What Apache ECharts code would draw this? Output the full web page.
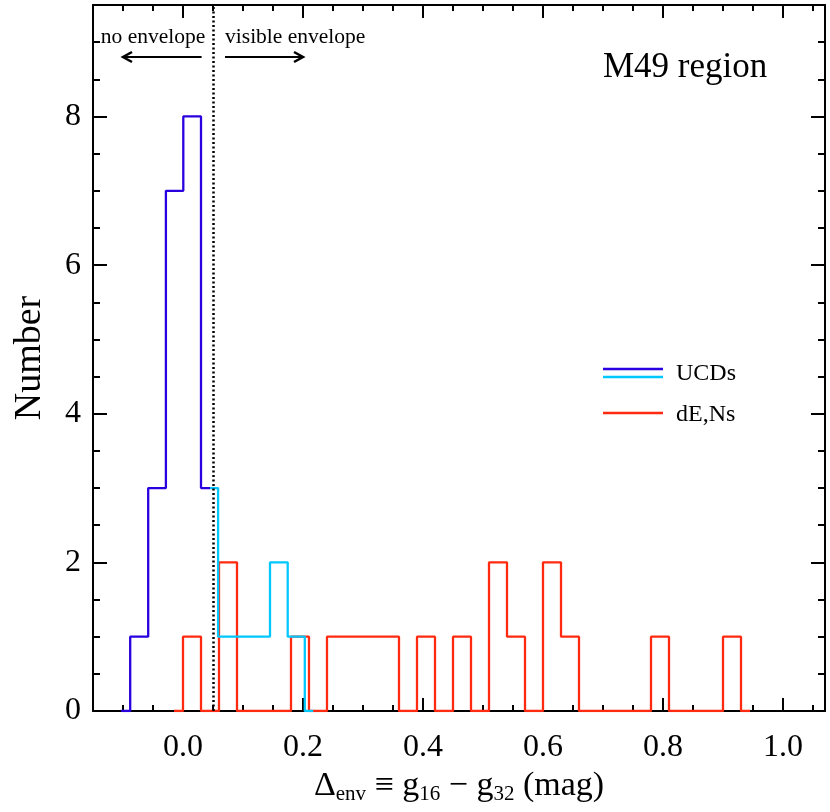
<!DOCTYPE html>
<html>
<head>
<meta charset="utf-8">
<script src="https://cdn.jsdelivr.net/npm/echarts@6/dist/echarts.min.js"></script>
<style>
  html, body { margin: 0; padding: 0; background: #fff; }
  #chart { width: 830px; height: 812px; }
</style>
</head>
<body>
<div id="chart"></div>
<script>
// UCDs histogram, blue part (bin centre, count)
const ucdBlueX = [-0.103, -0.073, -0.043, -0.014, 0.015, 0.045]
const ucdBlueN = [0, 1, 3, 7, 8, 3]
// UCDs histogram, cyan part (right of the dotted line)
const ucdCyanX = [0.045, 0.072, 0.101, 0.130, 0.160, 0.189, 0.217]
const ucdCyanN = [3, 1, 1, 1, 2, 1, 0]
// dE,Ns histogram
const dENsX = [-0.015, 0.015, 0.045, 0.075, 0.105, 0.135, 0.165, 0.195, 0.225, 0.255, 0.285,
  0.315, 0.345, 0.375, 0.405, 0.435, 0.465, 0.495, 0.525, 0.555, 0.585, 0.615, 0.645,
  0.675, 0.705, 0.735, 0.765, 0.795, 0.825, 0.855, 0.885, 0.915, 0.945]
const dENsN = [0, 1, 0, 2, 0, 0, 0, 1, 0, 1, 1,
  1, 1, 0, 1, 0, 1, 0, 2, 1, 0, 2, 1,
  0, 0, 0, 0, 1, 0, 0, 0, 1, 0]

// axis ticks
const xMajor = [0.0, 0.2, 0.4, 0.6, 0.8, 1.0]
const xMinor = [-0.1, -0.05, 0.05, 0.1, 0.15, 0.25, 0.3, 0.35, 0.45, 0.5, 0.55,
  0.65, 0.7, 0.75, 0.85, 0.9, 0.95, 1.05]
const yMajor = [0, 2, 4, 6, 8]
const yMinor = [0.5, 1, 1.5, 2.5, 3, 3.5, 4.5, 5, 5.5, 6.5, 7, 7.5, 8.5, 9]

const envCut = 0.05 // dotted separation line

const FONT = 'Liberation Serif'
const BLUE = '#2a00e0'
const CYAN = '#00c8ff'
const RED = '#ff2a10'

const chart = echarts.init(document.getElementById('chart'))

function pairs(xs, ys) {
  return xs.map((x, i) => [x, ys[i]])
}

function xAxisDef(pos, ticks, len, main) {
  return {
    type: 'value',
    position: pos,
    min: -0.15,
    max: 1.07,
    splitLine: { show: false },
    axisLine: { show: main, onZero: false, lineStyle: { color: '#000', width: 2 } },
    axisTick: { inside: true, length: len, customValues: ticks, lineStyle: { color: '#000', width: 2 } },
    axisLabel: main && pos === 'bottom' ? {
      customValues: xMajor,
      margin: 21,
      color: '#000',
      fontFamily: FONT,
      fontSize: 32,
      formatter: v => v.toFixed(1)
    } : { show: false }
  }
}

function yAxisDef(pos, ticks, len, main) {
  return {
    type: 'value',
    position: pos,
    min: 0,
    max: 9.5,
    splitLine: { show: false },
    axisLine: { show: main, onZero: false, lineStyle: { color: '#000', width: 2 } },
    axisTick: { inside: true, length: len, customValues: ticks, lineStyle: { color: '#000', width: 2 } },
    axisLabel: main && pos === 'left' ? {
      customValues: yMajor,
      margin: 12,
      color: '#000',
      fontFamily: FONT,
      fontSize: 32
    } : { show: false }
  }
}

const xAxes = [
  xAxisDef('bottom', xMajor, 13, true),
  xAxisDef('bottom', xMinor, 6, false),
  xAxisDef('top', xMajor, 13, true),
  xAxisDef('top', xMinor, 6, false)
]
xAxes[0].name = '{t|Δ}{s|env}{t| ≡ g}{s|16}{t| − g}{s|32}{t| (mag)}'
xAxes[0].nameLocation = 'middle'
xAxes[0].nameGap = 56
xAxes[0].nameTextStyle = {
  rich: {
    t: { fontFamily: FONT, fontSize: 34, color: '#000', lineHeight: 38, verticalAlign: 'middle' },
    s: { fontFamily: FONT, fontSize: 21, color: '#000', lineHeight: 15, verticalAlign: 'bottom' }
  }
}

const yAxes = [
  yAxisDef('left', yMajor, 14, true),
  yAxisDef('left', yMinor, 7, false),
  yAxisDef('right', yMajor, 14, true),
  yAxisDef('right', yMinor, 7, false)
]
yAxes[0].name = 'Number'
yAxes[0].nameLocation = 'middle'
yAxes[0].nameGap = 44
yAxes[0].nameTextStyle = { fontFamily: FONT, fontSize: 38, color: '#000' }

function stepSeries(name, data, color, z) {
  return {
    name: name,
    type: 'line',
    step: 'middle',
    data: data,
    showSymbol: false,
    symbol: 'none',
    silent: true,
    z: z,
    lineStyle: { color: color, width: 2.3 }
  }
}

chart.setOption({
  animation: false,
  backgroundColor: '#fff',
  grid: { left: 93, right: 5, top: 5, bottom: 101, containLabel: false },
  xAxis: xAxes,
  yAxis: yAxes,
  series: [
    Object.assign(stepSeries('dE,Ns', pairs(dENsX, dENsN), RED, 2), {
      markLine: {
        silent: true,
        symbol: 'none',
        label: { show: false },
        lineStyle: { color: '#000', type: [2, 2.5], width: 2.5 },
        data: [{ xAxis: envCut }]
      }
    }),
    stepSeries('UCDs', pairs(ucdBlueX, ucdBlueN), BLUE, 3),
    stepSeries('UCDs', pairs(ucdCyanX, ucdCyanN), CYAN, 3)
  ]
})

// annotations, placed through the axes
const toPx = (x, y) => chart.convertToPixel({ gridIndex: 0 }, [x, y])
const arrowY = 8.8
const la = [toPx(0.031, arrowY), toPx(-0.100, arrowY)]
const ra = [toPx(0.070, arrowY), toPx(0.200, arrowY)]
const noEnv = toPx(-0.050, 9.07)
const visEnv = toPx(0.187, 9.07)

function arrow(p0, p1) {
  const dir = Math.sign(p1[0] - p0[0])
  const tip = p1
  return [
    { type: 'line', shape: { x1: p0[0], y1: p0[1], x2: p1[0], y2: p1[1] }, style: { stroke: '#000', lineWidth: 2 } },
    { type: 'polyline', shape: { points: [[tip[0] - dir * 9, tip[1] - 5], tip, [tip[0] - dir * 9, tip[1] + 5]] }, style: { stroke: '#000', lineWidth: 2.5, fill: null } }
  ]
}

const txt = (x, y, text, size, align) => ({
  type: 'text', x: x, y: y,
  style: { text: text, fontFamily: FONT, fontSize: size, fill: '#000', align: align || 'left', verticalAlign: 'middle' }
})

const legLine = (y, color) => ({
  type: 'line', shape: { x1: 603, y1: y, x2: 663, y2: y }, style: { stroke: color, lineWidth: 2.5 }
})

chart.setOption({
  graphic: [].concat(
    arrow(la[0], la[1]),
    arrow(ra[0], ra[1]),
    [
      txt(noEnv[0], noEnv[1], 'no envelope', 21.5, 'center'),
      txt(visEnv[0], visEnv[1], 'visible envelope', 21.5, 'center'),
      txt(603, 68, 'M49 region', 35),
      legLine(369, BLUE),
      legLine(377, CYAN),
      txt(676, 374, 'UCDs', 24),
      legLine(413, RED),
      txt(676, 415, 'dE,Ns', 24)
    ]
  )
})
</script>
</body>
</html>
